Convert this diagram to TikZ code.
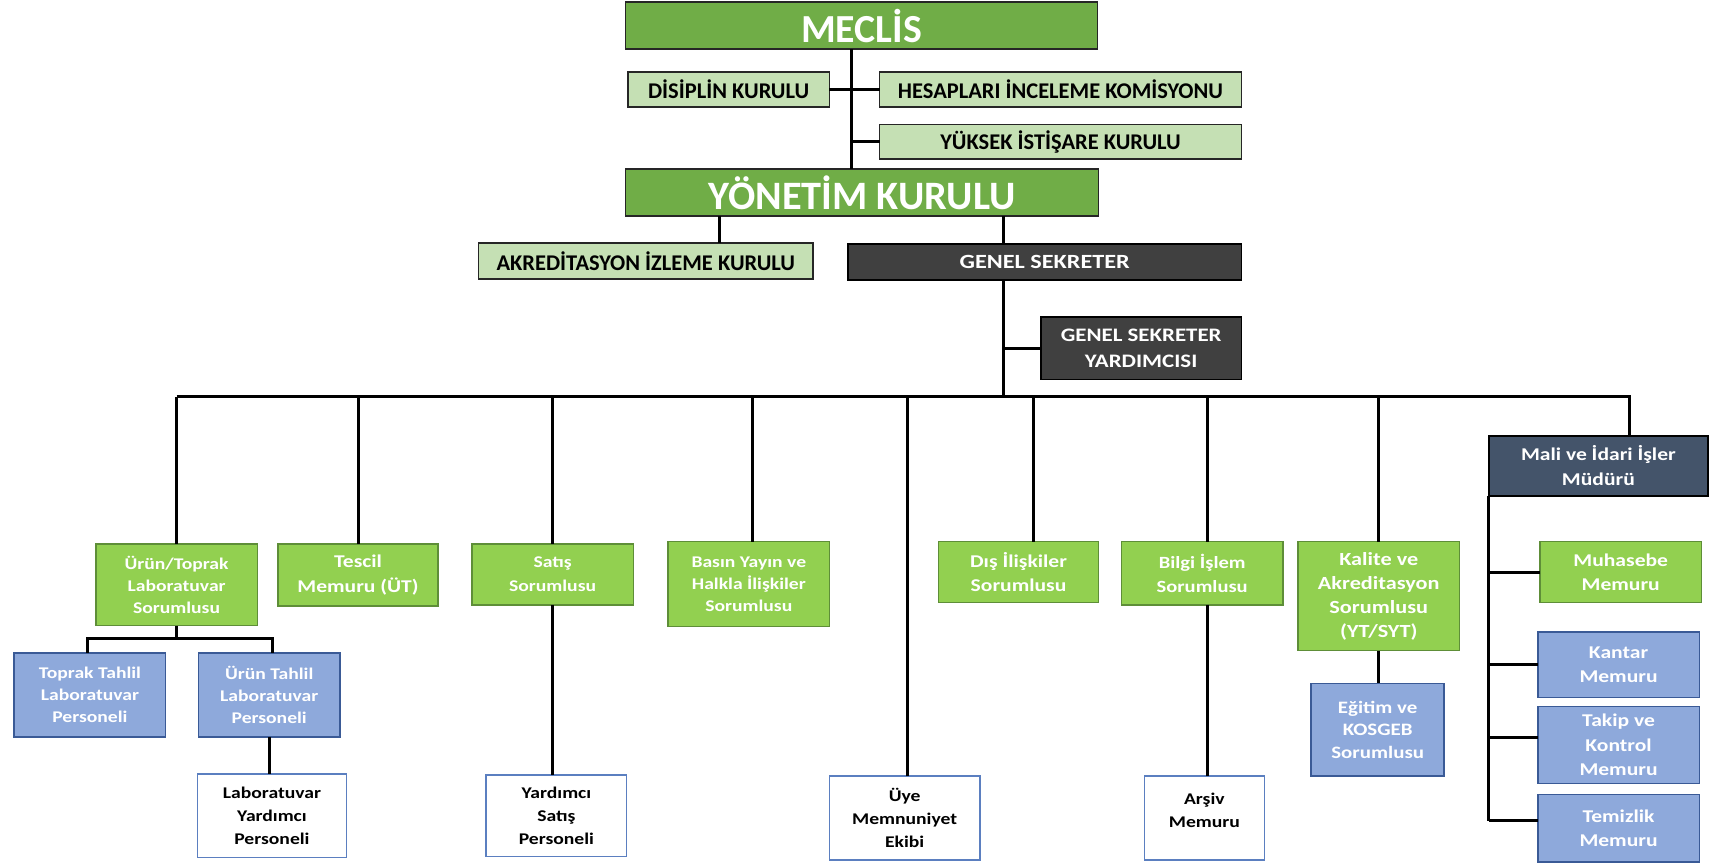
\documentclass[tikz,border=0pt]{standalone}
\usepackage{fontspec}
\setmainfont{Carlito}
\newfontfamily\widefont[FakeStretch=1.2]{Carlito}
\definecolor{dgreen}{HTML}{70AD47}
\definecolor{lgreen}{HTML}{C5E0B4}
\definecolor{dgray}{HTML}{404040}
\definecolor{mgreen}{HTML}{92D050}
\definecolor{gborder}{HTML}{5E8E38}
\definecolor{bfill}{HTML}{8EA9DB}
\definecolor{bborder}{HTML}{3A5A96}
\definecolor{wborder}{HTML}{5B7FC0}
\definecolor{navy}{HTML}{44546A}
\begin{document}
\begin{tikzpicture}[x=1pt,y=-1pt,
  base/.style={draw, inner sep=0pt, outer sep=0pt, align=center, line width=1.3pt},
  topbox/.style={base, fill=dgreen, draw=black!85, text=white, font=\fontsize{37}{42}\selectfont\bfseries},
  lightbox/.style={base, fill=lgreen, draw=black!85, text=black, font=\fontsize{20.6}{23}\selectfont\bfseries},
  graybox/.style={base, fill=dgray, draw=black, text=white, font=\widefont\fontsize{17.5}{24}\selectfont\bfseries},
  greenbox/.style={base, fill=mgreen, draw=gborder, text=white, font=\widefont\fontsize{15}{20}\selectfont\bfseries},
  greenbig/.style={greenbox, font=\widefont\fontsize{16.5}{22.5}\selectfont\bfseries},
  bluebox/.style={base, fill=bfill, draw=bborder, text=white, font=\widefont\fontsize{15}{20.5}\selectfont\bfseries},
  bluebig/.style={bluebox, font=\widefont\fontsize{16.5}{22.5}\selectfont\bfseries},
  whitebox/.style={base, fill=white, draw=wborder, text=black, font=\widefont\fontsize{15}{21}\selectfont\bfseries},
  navybox/.style={base, fill=navy, draw=black, text=white, font=\widefont\fontsize{16.5}{23}\selectfont\bfseries},
  conn/.style={line width=2.7pt, black}]
\useasboundingbox (0,0) rectangle (1568,792);
\fill[white] (0,0) rectangle (1568,792);

% nodes
\node[topbox, font=\fontsize{36.5}{42}\selectfont\bfseries, minimum width=433, minimum height=43] (meclis) at (790.5,23.5) {MECLİS};
\node[lightbox, minimum width=185, minimum height=32] (disiplin) at (668.5,82) {DİSİPLİN KURULU};
\node[lightbox, minimum width=332, minimum height=32] (hesap) at (973,82) {HESAPLARI İNCELEME KOMİSYONU};
\node[lightbox, minimum width=332, minimum height=32] (yuksek) at (973,130) {YÜKSEK İSTİŞARE KURULU};
\node[topbox, minimum width=434, minimum height=43] (yonetim) at (791,176.5) {YÖNETİM KURULU};
\node[lightbox, minimum width=307, minimum height=33] (akred) at (592.5,239.5) {AKREDİTASYON İZLEME KURULU};
\node[graybox, font=\widefont\fontsize{18.5}{24}\selectfont\bfseries, minimum width=361, minimum height=33] (gensek) at (958.5,240.5) {GENEL SEKRETER};
\node[graybox, minimum width=184, minimum height=57] (gsy) at (1047,319.5) {GENEL SEKRETER\\YARDIMCISI};
\node[navybox, minimum width=201, minimum height=55] (mali) at (1466.5,427.5) {Mali ve İdari İşler\\Müdürü};

\node[greenbox, minimum width=148, minimum height=75] (urtop) at (162,536.5) {Ürün/Toprak\\Laboratuvar\\Sorumlusu};
\node[greenbox, font=\widefont\fontsize{16.5}{23}\selectfont\bfseries, minimum width=147, minimum height=57] (tescil) at (328.5,527.5) {Tescil\\Memuru (ÜT)};
\node[greenbox, font=\widefont\fontsize{15}{22}\selectfont\bfseries, minimum width=148, minimum height=56] (satis) at (507,527) {Satış\\Sorumlusu};
\node[greenbox, minimum width=148, minimum height=78] (basin) at (687,536) {Basın Yayın ve\\Halkla İlişkiler\\Sorumlusu};
\node[greenbox, font=\widefont\fontsize{16.5}{22}\selectfont\bfseries, minimum width=147, minimum height=56] (dis) at (934.5,525) {Dış İlişkiler\\Sorumlusu};
\node[greenbox, font=\widefont\fontsize{15.7}{22}\selectfont\bfseries, minimum width=148, minimum height=58] (bilgi) at (1103,526) {Bilgi İşlem\\Sorumlusu};
\node[greenbox, font=\widefont\fontsize{17}{22}\selectfont\bfseries, minimum width=148, minimum height=100] (kalite) at (1265,547) {Kalite ve\\Akreditasyon\\Sorumlusu\\(YT/SYT)};
\node[greenbig, minimum width=148, minimum height=56] (muhasebe) at (1487,525) {Muhasebe\\Memuru};
\node[bluebig, minimum width=148, minimum height=60] (kantar) at (1485,610) {Kantar\\Memuru};
\node[bluebig, minimum width=148, minimum height=71] (takip) at (1485,683.5) {Takip ve\\Kontrol\\Memuru};
\node[bluebig, minimum width=148, minimum height=62] (temizlik) at (1485,760) {Temizlik\\Memuru};
\node[bluebox, font=\widefont\fontsize{16}{20.5}\selectfont\bfseries, minimum width=122, minimum height=85] (egitim) at (1264,669.5) {Eğitim ve\\KOSGEB\\Sorumlusu};
\node[bluebox, minimum width=139, minimum height=77] (toprak) at (82.5,637.5) {Toprak Tahlil\\Laboratuvar\\Personeli};
\node[bluebox, minimum width=130, minimum height=77] (urun) at (247,637.5) {Ürün Tahlil\\Laboratuvar\\Personeli};
\node[whitebox, minimum width=137, minimum height=77] (labyard) at (249.5,748.5) {Laboratuvar\\Yardımcı\\Personeli};
\node[whitebox, minimum width=129, minimum height=75] (yardsat) at (510.5,748.5) {Yardımcı\\Satış\\Personeli};
\node[whitebox, minimum width=138, minimum height=77] (uye) at (830,750.5) {Üye\\Memnuniyet\\Ekibi};
\node[whitebox, minimum width=110, minimum height=77] (arsiv) at (1105,750.5) {Arşiv\\Memuru\\[-7pt]\mbox{}};

% helper coordinates
\coordinate (t1) at (781,0);
\coordinate (t2) at (660,0);
\coordinate (t3) at (921,0);
\coordinate (t4) at (1495,0);
\coordinate (busy) at (0,364);
\coordinate (d1) at (690,0);
\coordinate (d2) at (833,0);
\coordinate (d3) at (948,0);
\coordinate (d4) at (1108,0);
\coordinate (e1) at (80,0);
\coordinate (e2) at (250,0);
\coordinate (suby) at (0,586);
\coordinate (yt) at (0,677);
\coordinate (yz) at (0,753);

% connectors
\draw[conn] (meclis.south -| t1) -- (yonetim.north -| t1);
\draw[conn] (disiplin.east) -- (hesap.west);
\draw[conn] (yuksek.west) -- (yuksek.west -| t1);
\draw[conn] (yonetim.south -| t2) -- (akred.north -| t2);
\draw[conn] (yonetim.south -| t3) -- (gensek.north -| t3);
\draw[conn] (gensek.south -| t3) -- (t3 |- busy);
\draw[conn] (gsy.west) -- (gsy.west -| t3);
\draw[conn, line join=miter] (urtop.north |- busy) -- (t4 |- busy) -- (mali.north -| t4);
\draw[conn] (urtop.north) -- (urtop.north |- busy);
\draw[conn] (tescil.north) -- (tescil.north |- busy);
\draw[conn] (satis.north) -- (satis.north |- busy);
\draw[conn] (basin.north -| d1) -- (d1 |- busy);
\draw[conn] (uye.north -| d2) -- (d2 |- busy);
\draw[conn] (dis.north -| d3) -- (d3 |- busy);
\draw[conn] (bilgi.north -| d4) -- (d4 |- busy);
\draw[conn] (kalite.north) -- (kalite.north |- busy);
\draw[conn] (urtop.south) -- (urtop.south |- suby);
\draw[conn, line join=miter] (toprak.north -| e1) -- (e1 |- suby) -- (e2 |- suby) -- (urun.north -| e2);
\draw[conn] (urun.south) -- (urun.south |- labyard.north);
\draw[conn] (satis.south) -- (satis.south |- yardsat.north);
\draw[conn] (bilgi.south -| d4) -- (arsiv.north -| d4);
\draw[conn] (kalite.south) -- (kalite.south |- egitim.north);
\draw[conn] (mali.south west) -- (mali.south west |- yz);
\draw[conn] (muhasebe.west) -- (muhasebe.west -| mali.south west);
\draw[conn] (kantar.west) -- (kantar.west -| mali.south west);
\draw[conn] (takip.west |- yt) -- (mali.south west |- yt);
\draw[conn] (temizlik.west |- yz) -- (mali.south west |- yz);
\end{tikzpicture}
\end{document}
